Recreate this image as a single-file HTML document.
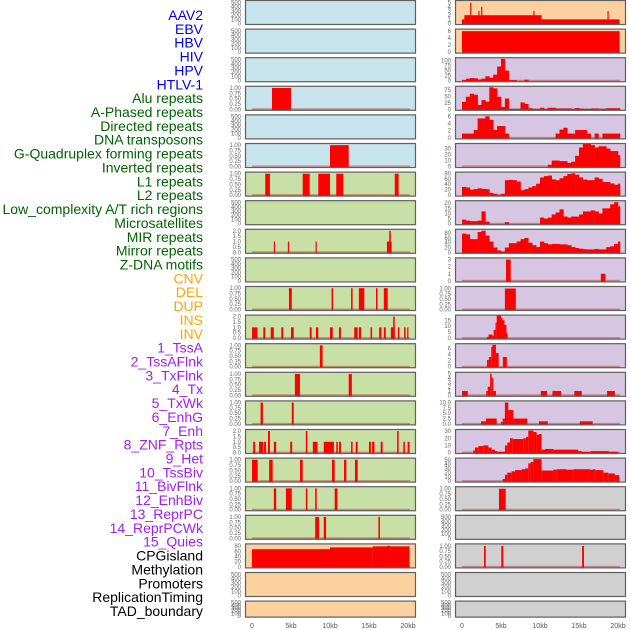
<!DOCTYPE html>
<html><head><meta charset="utf-8"><style>
html,body{margin:0;padding:0;background:#fff;}
svg{display:block;font-family:"Liberation Sans",sans-serif;}
</style></head><body>
<svg id="chart" width="630" height="630" viewBox="0 0 630 630" xmlns="http://www.w3.org/2000/svg"></svg>
<script>
// ---------- data ----------
const featureLabels = ["AAV2","EBV","HBV","HIV","HPV","HTLV-1","Alu repeats","A-Phased repeats","Directed repeats","DNA transposons","G-Quadruplex forming repeats","Inverted repeats","L1 repeats","L2 repeats","Low_complexity A/T rich regions","Microsatellites","MIR repeats","Mirror repeats","Z-DNA motifs","CNV","DEL","DUP","INS","INV","1_TssA","2_TssAFlnk","3_TxFlnk","4_Tx","5_TxWk","6_EnhG","7_Enh","8_ZNF_Rpts","9_Het","10_TssBiv","11_BivFlnk","12_EnhBiv","13_ReprPC","14_ReprPCWk","15_Quies","CPGisland","Methylation","Promoters","ReplicationTiming","TAD_boundary"];
const labelGroups = ["v","v","v","v","v","v","r","r","r","r","r","r","r","r","r","r","r","r","r","c","c","c","c","c","s","s","s","s","s","s","s","s","s","s","s","s","s","s","s","k","k","k","k","k"];
const xTickValues = [0,5,10,15,20];
const xTickLabels = ["0","5kb","10kb","15kb","20kb"];

const leftBg = ["b","b","b","b","b","b","g","g","g","g","g","g","g","g","g","g","g","g","g","o","o","o"];
const leftTicks = ["t500","t500","t500","t1","t500","t1","t1","t500","t2","t500","t1","t2","t1","t1","t1","t2","t1","t1","t1","t80","t500","t500"];
const leftYmax = [520,520,520,1.03,520,1.03,1.03,520,2.05,520,1.03,2.05,1.03,1.03,1.03,2.05,1.03,1.03,1.03,84.6,520,520];
const leftSegments = [
 [],[],[],
 [[2.56,5.0,1]],
 [],
 [[10.0,12.4,1]],
 [[1.7,2.3,1],[6.5,7.4,1],[8.5,10.0,1],[10.8,11.7,1],[18.3,18.8,1]],
 [],
 [[2.8,2.95,1],[4.6,4.75,1],[8.15,8.3,1],[17.3,17.9,1],[17.6,17.8,2]],
 [],
 [[4.74,5.1,1],[10.2,10.4,1],[12.7,12.9,1],[13.7,14.4,1],[15.9,16.1,1],[16.9,17.4,1]],
 [[0,0.7,1],[1.45,1.7,1],[2.4,2.8,1],[3.76,4.0,1],[5.0,5.35,1],[7.4,7.65,1],[8.2,8.5,1],[10.0,10.35,1],[11.15,11.4,1],[13.1,13.55,1],[13.7,14.0,1],[15.2,15.4,1],[16.3,16.6,1],[16.9,17.15,1],[17.8,18.3,1],[18.1,18.3,2],[18.7,18.9,1],[19.5,19.7,1],[19.9,20.0,1]],
 [[8.7,9.05,1]],
 [[5.5,6.15,1],[12.4,12.8,1]],
 [[1.1,1.4,1],[5.1,5.35,1]],
 [[0.15,0.4,1],[0.9,1.45,1],[1.55,1.8,1],[2.05,2.3,2],[2.8,3.1,1],[4.9,5.15,1],[6.9,7.1,2],[7.8,8.4,1],[9.2,10.5,1],[10.8,11.0,1],[11.15,11.4,1],[12.7,12.9,1],[13.3,13.55,1],[15.0,15.25,1],[15.4,15.7,1],[16.5,16.75,1],[18.6,18.8,2],[19.4,19.6,1],[19.95,20.2,1]],
 [[0,0.73,1],[2.2,2.65,1],[6.15,6.5,1],[10.25,10.6,1],[11.8,12.1,1],[13.2,13.55,1]],
 [[2.8,3.1,1],[4.35,5.1,1],[6.9,7.1,1],[8.1,8.3,1],[10.6,10.95,1]],
 [[8.1,8.6,1],[9.2,9.5,1],[16.2,16.4,1]],
 [[0,10,68],[10,15.5,75],[15.5,20.2,79],[17.3,17.7,81]],
 [],[]
];

const rightBg = ["o","o","p","p","p","p","p","p","p","p","p","p","p","p","p","p","p","y","y","y","y","y"];
const rightTicks = ["t5","t6","t100","t75","t6","t30","t80","t20","t80","t3","t1","t15","t6","t5","t10","t30","t50","t1","t500","t1","t500","t500"];
const rightYmax = [5.3,6.3,109,86,6.1,37,81,21.5,92,3.1,1.05,18.5,7.25,5.1,10.3,31,52,1.05,520,1.05,520,520];
const rightBins3 = [3,10,13,12,6,10,22,15,30,70,108,50,3,3,0,0,5,0,0,0,0,0,0,0,0,0,0,0,0,0,0,0,0,0,0,0,0,0,0,0,0];
const rightBins4 = [29,49,61,57,17,36,30,86,82,49,9,42,1,1,1,27,21,4,1,1,6,1,6,6,3,3,3,3,1,5,2,1,1,3,3,1,1,4,4,4,4];
const rightBins5 = [1.2,1.2,1.2,2.2,5.4,5.4,6,5,2.2,3.3,3.3,1.2,0,0,0,0,0,0,0,0,0,0,0,0,1.2,2.3,2.8,1.2,1.2,2.2,2.2,2.2,1.2,0,1.2,0,1.2,1.2,1.2,1.2,1.2];
const rightBins6 = [0,0,0,0,0,0,0,0,0,0,0,0,0,0,0,0,0,0,0,0,0,0,3,10,10,9,9,6,8,18,32,38,38,36,32,34,34,30,26,26,19];
const rightBins7 = [30,28,20,22,25,23,22,8,5,1,5,55,56,55,50,18,22,28,33,42,65,70,72,58,55,62,70,78,80,75,65,57,55,55,65,60,48,48,43,38,42];
const rightBins8 = [4,3,2.5,2.5,3,12,2,0,0,0,0,1.5,0,0,0,0,0,0,0,0,6,5,6,9,11,14,7,6,7,7,9,12,12,13,12,10,15,15,19,21,17];
const rightBins9 = [78,75,55,55,85,90,70,45,20,8,3,20,38,38,45,55,60,40,30,22,45,38,33,35,35,33,33,30,22,18,15,13,12,12,14,12,12,22,25,35,45];
const rightBinned = [null,null,rightBins3,rightBins4,rightBins5,rightBins6,rightBins7,rightBins8,rightBins9,null,null,null,null,null,null,null,null,null,null,null,null,null];
const rightSegments = [
 [[0,0.3,1],[0.3,10.2,2],[10.2,20.2,1],[1.05,1.2,5],[2.1,2.25,3],[2.45,2.6,4],[9.15,9.3,3],[18.65,18.8,3]],
 [[0,20.2,6]],
 [],[],[],[],[],[],[],
 [[5.64,6.25,3],[17.8,18.4,1]],
 [[5.5,6.9,1]],
 [[3.2,3.4,1],[3.4,3.9,3],[3.9,4.05,2],[4.05,4.3,7],[4.3,4.45,13],[4.45,5.0,19],[5.0,5.2,17],[5.2,5.45,15],[5.45,5.7,11],[5.7,5.8,4]],
 [[3.2,3.45,2.2],[3.45,3.75,3.2],[3.75,3.9,6.5],[3.9,4.35,7.2],[4.35,4.7,4.5],[5.25,5.75,3.2]],
 [[0,0.75,1],[3.1,3.3,1],[3.3,3.6,2],[3.6,3.8,5],[3.8,4.0,4],[4.0,4.35,1],[10.1,10.9,1],[11.6,12.7,1],[14.4,15.35,1],[18.6,19.6,1]],
 [[2.44,3.08,1.2],[3.08,4.45,2.5],[5.0,5.22,1],[5.22,5.5,2.5],[5.5,5.94,10],[5.94,6.58,6.5],[6.58,8.37,2.5],[9.87,11.0,1.2],[15.1,16.75,1.2]],
 [[1.45,1.67,3],[1.67,2.09,7],[2.09,2.73,9],[2.73,3.38,10],[3.38,3.8,7],[3.8,4.23,4],[4.23,4.53,2],[4.53,5.51,1],[5.51,5.81,10],[5.81,6.15,14],[6.15,6.5,20],[6.5,7.86,19],[7.86,8.2,20],[8.2,8.5,22],[8.5,9.15,31],[9.15,9.57,29],[9.57,9.87,25],[9.87,10.2,26],[10.2,10.64,4],[10.64,11.7,5],[11.7,14.9,4],[14.9,15.34,2],[15.34,16.5,1],[16.5,18.8,2],[18.8,20.0,1]],
 [[5.22,5.51,5],[5.51,5.81,15],[5.81,6.37,20],[6.37,6.8,23],[6.8,7.65,26],[7.65,8.08,28],[8.08,8.5,30],[8.5,8.8,42],[8.8,9.15,45],[9.15,10.2,52],[10.2,11.7,25],[11.7,12.14,27],[12.14,13.4,28],[13.4,14.27,27],[14.27,16.4,28],[16.4,16.8,27],[16.8,17.1,28],[17.1,18.1,26],[18.1,18.76,20],[18.76,19.6,18],[19.6,20.17,14]],
 [[4.74,5.6,1]],
 [],
 [[2.82,3.04,1],[5.04,5.3,1],[15.4,15.64,1]],
 [],[]
];

const tickSets = {
 t500:[0,100,200,300,400,500], t1:[0,0.25,0.5,0.75,1], t2:[0,0.5,1,1.5,2], t80:[0,20,40,60,80],
 t5:[0,1,2,3,4,5], t6:[0,2,4,6], t100:[0,25,50,75,100], t75:[0,25,50,75], t30:[0,10,20,30],
 t20:[0,5,10,15,20], t3:[0,1,2,3], t15:[0,5,10,15], t10:[0,2.5,5,7.5,10], t50:[0,10,20,30,40,50]
};
const tickFormat = {t1:2,t2:1,t10:1};

// ---------- layout ----------
const NS="http://www.w3.org/2000/svg";
const svg=document.getElementById('chart');
const bgColors={b:"#c7e4ec",g:"#c8e0a5",o:"#fdd09f",p:"#d6c6e2",y:"#d0d0d0"};
const labelColors={v:"#0000ee",r:"#006400",c:"#ffa500",s:"#a020f0",k:"#000000"};
const PANEL_W=171, KB_PX=7.8, DATA_END=20.25;
function rowTop(i){return i*28.6;}
function rowH(i){return i===21?17:25;}
function xScale(panelX,kb){return panelX+7+Math.min(kb,DATA_END)*KB_PX;}
function yScale(top,h,ymax,v){return top+h-1.5-(v/ymax)*(h-3);}
function mk(tag,attrs,parent){const e=document.createElementNS(NS,tag);for(const k in attrs)e.setAttribute(k,attrs[k]);(parent||svg).appendChild(e);return e;}

// labels
featureLabels.forEach((t,i)=>{
  const el=mk('text',{x:203,y:15+i*13.86+5,'text-anchor':'end','font-size':14,fill:labelColors[labelGroups[i]]});
  el.textContent=t;
  
  
});

function drawPanel(side,i,panelX,bg,tickKey,ymax,segs,bins){
  const top=rowTop(i), h=rowH(i);
  const g=mk('g',{});
  
  
  const clipId='clip-'+side+i;
  const cp=mk('clipPath',{id:clipId},g);
  mk('rect',{x:panelX,y:top,width:PANEL_W,height:h},cp);
  const bgr=mk('rect',{x:panelX,y:top,width:PANEL_W,height:h,fill:bgColors[bg]},g);
  
  
  const hasData=(segs&&segs.length)||bins;
  const marks=mk('g',{'clip-path':'url(#'+clipId+')'},g);
  const y0=yScale(top,h,ymax,0);
  if(hasData){
    const bl=mk('line',{x1:xScale(panelX,0),x2:xScale(panelX,DATA_END),y1:y0,y2:y0,stroke:'rgba(190,40,40,0.45)','stroke-width':2},marks);
    
    
  }
  if(bins){
    bins.forEach((v,b)=>{
      if(v<=0)return;
      const x1=xScale(panelX,b*0.5), x2=xScale(panelX,b*0.5+0.5);
      const yv=yScale(top,h,ymax,v);
      const r=mk('rect',{x:x1,y:yv,width:Math.max(0,x2-x1+0.3),height:y0-yv+1,fill:'#ff0000'},marks);
      
      
    });
  }
  (segs||[]).forEach(s=>{
    const x1=xScale(panelX,s[0]), x2=xScale(panelX,s[1]);
    const yv=yScale(top,h,ymax,s[2]);
    const r=mk('rect',{x:x1,y:yv,width:Math.max(1.2,x2-x1),height:y0-yv+1,fill:'#ff0000'},marks);
    
    
  });
  const br=mk('rect',{x:panelX+0.5,y:top+0.5,width:PANEL_W-1,height:h-1,fill:'none',stroke:'#606060','stroke-width':1.2},g);
  
  
  const ticks=tickSets[tickKey], dec=tickFormat[tickKey]||0;
  ticks.forEach(t=>{
    const ty=yScale(top,h,ymax,t);
    const tx=mk('text',{x:panelX-4,y:ty+2,'text-anchor':'end','font-size':6,fill:'#666'},g);
    tx.textContent=dec?t.toFixed(dec):String(t);
    
    
  });
}
for(let i=0;i<22;i++){
  drawPanel('left',i,245,leftBg[i],leftTicks[i],leftYmax[i],leftSegments[i],null);
  drawPanel('right',i,455,rightBg[i],rightTicks[i],rightYmax[i],rightSegments[i],rightBinned[i]);
}
[245,455].forEach(px=>{
  xTickValues.forEach((v,j)=>{
    const t=mk('text',{x:xScale(px,v),y:628,'text-anchor':'middle','font-size':7,fill:'#555'});
    t.textContent=xTickLabels[j];
    
    
  });
});
</script>
</body></html>
